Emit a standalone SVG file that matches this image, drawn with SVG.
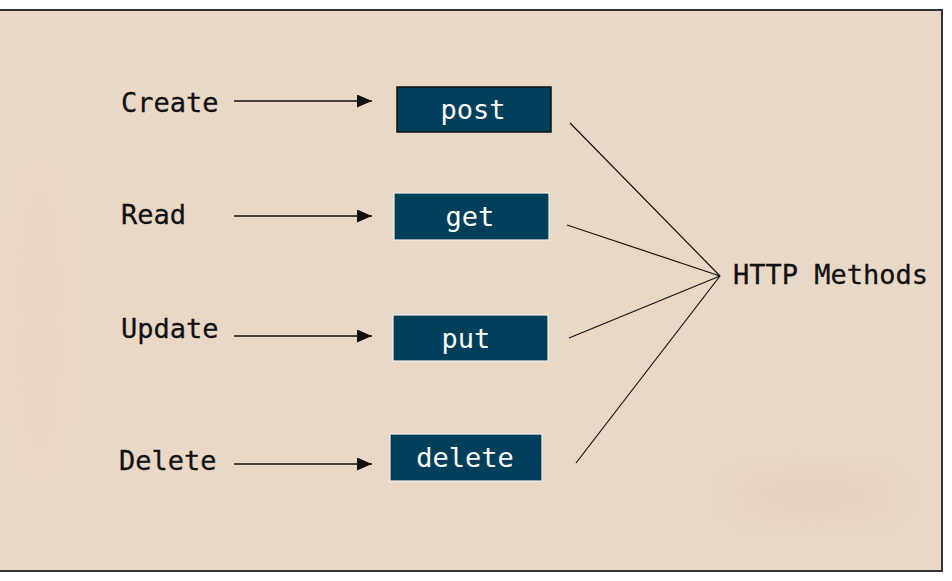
<svg xmlns="http://www.w3.org/2000/svg" width="952" height="581" viewBox="0 0 952 581">
<style>
.lbl{font-family:"DejaVu Sans Mono","Liberation Mono",monospace;font-size:27px;fill:#111;stroke:#111;stroke-width:0.3}
.btxt{font-family:"DejaVu Sans Mono","Liberation Mono",monospace;font-size:27px;fill:#ffffff;text-anchor:middle}
.box{fill:#003f5a}
.arrow{stroke:#111;stroke-width:1.5;fill:none;marker-end:url(#ah)}
.line{stroke:#111;stroke-width:1.2;fill:none}
</style>
<defs>
<marker id="ah" viewBox="0 0 15 13" refX="15" refY="6.5" markerWidth="15" markerHeight="13" markerUnits="userSpaceOnUse" orient="auto">
<path d="M0,0 L15,6.5 L0,13 Z" fill="#111"/>
</marker>
<filter id="blur" x="-50%" y="-50%" width="200%" height="200%"><feGaussianBlur stdDeviation="18"/></filter>
</defs>
<rect x="0" y="0" width="952" height="581" fill="#ffffff"/>
<rect x="-1" y="10" width="943" height="561" fill="#e9d8c6" stroke="#333" stroke-width="2"/>
<ellipse cx="815" cy="495" rx="85" ry="22" fill="#dfcab5" opacity="0.6" filter="url(#blur)"/>
<ellipse cx="40" cy="320" rx="30" ry="160" fill="#ecd4c2" opacity="0.6" filter="url(#blur)"/>

<g id="connectors">
<line class="arrow" x1="234" y1="101" x2="372" y2="101"/>
<line class="arrow" x1="234" y1="216" x2="372" y2="216"/>
<line class="arrow" x1="234" y1="336" x2="372" y2="336"/>
<line class="arrow" x1="234" y1="464" x2="372" y2="464"/>
<line class="line" x1="570" y1="123" x2="720" y2="276"/>
<line class="line" x1="567" y1="225" x2="720" y2="276"/>
<line class="line" x1="569" y1="338" x2="720" y2="276"/>
<line class="line" x1="576" y1="463" x2="720" y2="276"/>
</g>

<g id="label-create"><text class="lbl" x="121" y="112">Create</text></g>
<g id="label-read"><text class="lbl" x="121" y="224">Read</text></g>
<g id="label-update"><text class="lbl" x="121" y="338">Update</text></g>
<g id="label-delete"><text class="lbl" x="119" y="470">Delete</text></g>

<g id="node-post">
<rect class="box" x="397" y="87" width="154" height="45" stroke="#111" stroke-width="1.5"/>
<text class="btxt" x="473" y="119">post</text>
</g>
<g id="node-get">
<rect class="box" x="394" y="193" width="155" height="47" stroke="#f4f0ea" stroke-width="1.2"/>
<text class="btxt" x="470" y="226">get</text>
</g>
<g id="node-put">
<rect class="box" x="393" y="315" width="155" height="46" stroke="#f4f0ea" stroke-width="1.2"/>
<text class="btxt" x="466" y="348">put</text>
</g>
<g id="node-delete">
<rect class="box" x="390" y="434" width="152" height="47" stroke="#f4f0ea" stroke-width="1.2"/>
<text class="btxt" x="465" y="467">delete</text>
</g>
<g id="node-http">
<text class="lbl" x="733" y="284">HTTP Methods</text>
</g>
</svg>
